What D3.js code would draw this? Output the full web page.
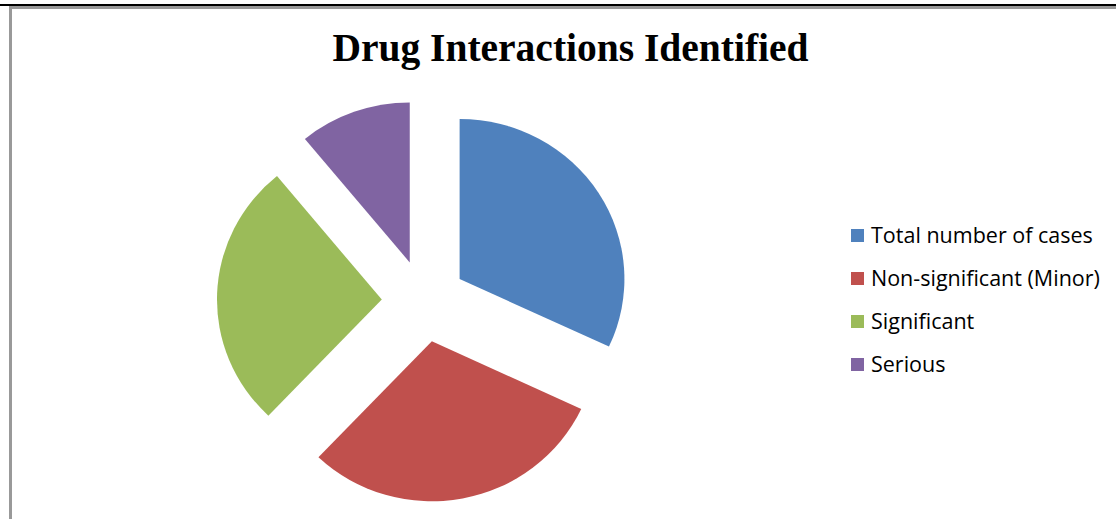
<!DOCTYPE html>
<html><head><meta charset="utf-8">
<script src="https://cdn.jsdelivr.net/npm/d3@7"></script>
<style>html,body{margin:0;padding:0;background:#fff;}svg{display:block;}</style>
</head><body>
<svg id="chart" width="1116" height="519"></svg>
<script>
const categories = ["Total number of cases", "Non-significant (Minor)", "Significant", "Serious"];
const values = [115, 108.5, 97, 39.5];
const colors = ["#4F81BD", "#C0504D", "#9BBB59", "#8064A2"];
const title = "Drug Interactions Identified";

const svg = d3.select("#chart");
const W = 1116, H = 519;

// frame lines
svg.append("rect").attr("x", 9).attr("y", 6).attr("width", W).attr("height", 3).attr("fill", "#999");
svg.append("rect").attr("x", 9).attr("y", 6).attr("width", 3).attr("height", H).attr("fill", "#999");
svg.append("rect").attr("x", 0).attr("y", 4).attr("width", W).attr("height", 2).attr("fill", "#000");

svg.append("text").attr("x", 570.5).attr("y", 61).attr("text-anchor", "middle")
  .attr("font-family", "'Liberation Serif','Times New Roman',serif")
  .attr("font-weight", "bold").attr("font-size", 39.5).attr("fill", "#000").text(title);

const cx = 424, cy = 301, R = 160, explode = 41;
const pie = d3.pie().sort(null).startAngle(0).endAngle(2 * Math.PI);
const arc = d3.arc().innerRadius(0).outerRadius(R);
const g = svg.append("g").attr("transform", `translate(${cx},${cy}) scale(1.03,1)`);
g.selectAll("path").data(pie(values)).enter().append("path")
  .attr("d", arc)
  .attr("fill", (d, i) => colors[i])
  .attr("transform", d => {
    const a = (d.startAngle + d.endAngle) / 2;
    return `translate(${explode * Math.sin(a)},${-explode * Math.cos(a)})`;
  });

const legend = svg.append("g").attr("transform", "translate(851,0)");
const rowY = d3.scalePoint().domain(categories).range([235.5, 364.5]);
const items = legend.selectAll("g").data(categories).enter().append("g")
  .attr("transform", d => `translate(0,${rowY(d)})`);
items.append("rect").attr("x", 0).attr("y", -6.5).attr("width", 13).attr("height", 13)
  .attr("fill", (d, i) => colors[i]);
items.append("text").attr("x", 20).attr("y", 7.5)
  .attr("font-family", "'Open Sans','Noto Sans',sans-serif").attr("font-size", 21.5)
  .attr("fill", "#000").text(d => d);
</script>
</body></html>
